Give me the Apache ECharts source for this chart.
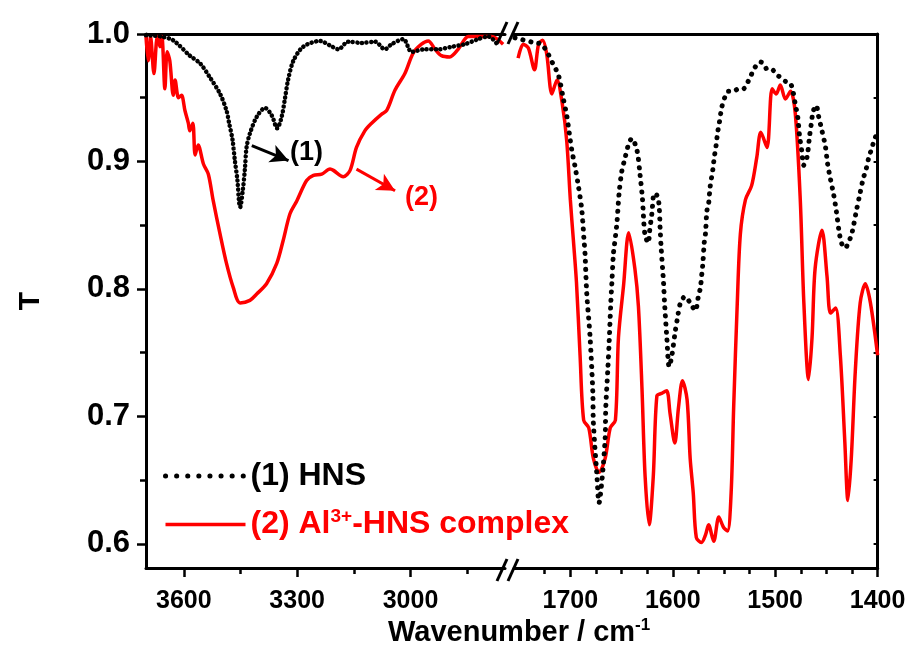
<!DOCTYPE html>
<html><head><meta charset="utf-8">
<script src="https://cdn.jsdelivr.net/npm/echarts@6/dist/echarts.min.js"></script>
<style>html,body{margin:0;padding:0;background:#fff}#c{width:920px;height:664px}</style>
</head><body><div id="c"></div>
<script>
// ---- data: [wavenumber, T] ----
const hnsHigh = [
 [3700,0.999],[3660,0.998],[3628,0.995],[3584,0.983],[3557,0.977],[3531,0.966],[3504,0.953],
 [3487,0.940],[3480,0.930],[3471,0.917],[3465,0.901],[3458,0.885],[3454,0.869],[3451,0.864],
 [3444,0.877],[3438,0.895],[3434,0.911],[3425,0.922],[3407,0.935],[3385,0.942],[3367,0.936],
 [3353,0.926],[3341,0.935],[3332,0.950],[3324,0.964],[3310,0.979],[3284,0.990],[3240,0.9945],
 [3213,0.991],[3191,0.988],[3165,0.994],[3129,0.993],[3094,0.994],[3068,0.988],[3050,0.992],
 [3019,0.996],[2997,0.986],[2962,0.988],[2927,0.988],[2891,0.990],[2856,0.992],[2821,0.996],
 [2794,0.998],[2768,0.991]
];
const complexHigh = [
 [3700,0.998],[3694,0.979],[3688,0.998],[3679,0.969],[3670,0.998],[3663,0.990],[3658,0.998],
 [3650,0.957],[3644,0.986],[3637,0.979],[3628,0.952],[3623,0.964],[3614,0.950],[3606,0.952],
 [3597,0.940],[3588,0.930],[3584,0.924],[3576,0.930],[3570,0.905],[3562,0.913],[3548,0.898],
 [3535,0.890],[3522,0.869],[3504,0.843],[3487,0.820],[3469,0.801],[3451,0.789],[3425,0.791],
 [3407,0.796],[3381,0.804],[3354,0.820],[3337,0.838],[3319,0.859],[3301,0.869],[3275,0.885],
 [3257,0.889],[3235,0.890],[3213,0.894],[3204,0.893],[3178,0.888],[3160,0.893],[3143,0.911],
 [3121,0.924],[3103,0.930],[3077,0.937],[3063,0.940],[3041,0.956],[3015,0.969],[2993,0.985],
 [2971,0.992],[2953,0.9945],[2935,0.988],[2918,0.983],[2896,0.982],[2874,0.988],[2847,0.998],
 [2821,0.998],[2786,0.998],[2755,0.992]
];
const hnsLow = [
 [1754,0.997],[1734.5,0.993],[1728,0.992],[1721.5,0.984],[1716.6,0.976],[1711.7,0.968],
 [1706.8,0.949],[1703.5,0.936],[1701,0.922],[1698.6,0.909],[1695.4,0.896],[1692,0.880],
 [1688.8,0.862],[1686.6,0.838],[1685.6,0.827],[1684,0.797],[1680.7,0.762],[1678,0.718],
 [1677.5,0.695],[1674,0.653],[1672,0.632],[1669,0.651],[1666,0.683],[1665.4,0.707],
 [1663.4,0.737],[1662,0.760],[1660.5,0.789],[1659.5,0.804],[1658,0.827],[1657,0.834],
 [1654.6,0.851],[1652.4,0.875],[1649.8,0.892],[1646.5,0.903],[1643.3,0.913],[1640,0.918],
 [1635,0.909],[1632,0.890],[1629.6,0.871],[1628.6,0.857],[1627,0.842],[1623.8,0.836],
 [1622.8,0.844],[1620.4,0.859],[1618,0.875],[1615,0.873],[1613.3,0.865],[1612.3,0.847],
 [1611.3,0.832],[1609,0.805],[1608,0.789],[1605.8,0.762],[1603.5,0.739],[1601,0.747],
 [1597.7,0.766],[1595.4,0.777],[1592.5,0.789],[1588,0.794],[1583,0.789],[1578,0.783],
 [1575,0.794],[1573,0.801],[1571.6,0.812],[1570.6,0.820],[1569.3,0.836],[1568,0.844],
 [1566.7,0.861],[1565,0.867],[1563.5,0.880],[1560.8,0.894],[1559.5,0.903],[1557.6,0.913],
 [1556.3,0.922],[1554.4,0.931],[1552,0.943],[1548.8,0.951],[1545.6,0.955],[1540.7,0.955],
 [1535.8,0.957],[1531,0.957],[1527.6,0.961],[1525,0.965],[1521,0.972],[1517.8,0.976],
 [1514.6,0.978],[1511.4,0.977],[1507.5,0.972],[1503.2,0.972],[1498.3,0.968],[1493.4,0.965],
 [1488.5,0.962],[1485,0.961],[1482.6,0.955],[1480.4,0.945],[1478,0.935],[1476.2,0.920],
 [1474,0.908],[1472.3,0.897],[1469,0.903],[1466.4,0.920],[1465,0.928],[1463,0.939],
 [1460,0.944],[1457.5,0.935],[1454.3,0.924],[1451,0.912],[1448.8,0.898],[1446,0.886],
 [1442.9,0.874],[1440.3,0.861],[1437.4,0.844],[1434.8,0.835],[1431.5,0.832],[1429.3,0.835],
 [1425.7,0.842],[1423.4,0.850],[1420.8,0.861],[1417.4,0.874],[1414.2,0.886],[1411.2,0.894],
 [1408.6,0.903],[1405.4,0.911],[1402.8,0.918],[1400,0.922]
];
const complexLow = [
 [1751,0.981],[1746,0.992],[1741,0.989],[1735,0.972],[1731,0.992],[1727,0.995],[1723,0.984],
 [1718,0.953],[1713,0.964],[1708,0.946],[1703.5,0.916],[1700,0.870],[1697,0.838],[1694,0.805],
 [1690.5,0.748],[1687,0.697],[1682,0.691],[1677.5,0.667],[1672,0.656],[1666,0.667],[1661,0.691],
 [1656,0.697],[1653,0.762],[1648,0.803],[1643,0.844],[1637,0.816],[1633.5,0.786],[1630,0.721],
 [1627,0.653],[1623,0.615],[1619,0.653],[1615.5,0.716],[1611,0.718],[1606,0.720],[1602.6,0.702],
 [1598,0.679],[1594.4,0.707],[1590.5,0.728],[1586,0.713],[1583,0.667],[1580,0.640],[1577,0.605],
 [1572,0.601],[1568,0.607],[1565,0.615],[1560,0.602],[1555,0.621],[1550.5,0.613],[1546.5,0.610],
 [1543,0.640],[1540.5,0.708],[1537,0.789],[1534,0.843],[1529,0.870],[1523,0.881],[1518,0.903],
 [1514,0.923],[1508,0.911],[1503,0.957],[1499,0.953],[1495,0.960],[1490,0.949],[1485,0.955],
 [1480.4,0.938],[1475.5,0.870],[1472,0.789],[1467.4,0.729],[1464,0.762],[1461,0.816],
 [1454.3,0.846],[1449.4,0.810],[1446,0.781],[1441,0.785],[1436.4,0.748],[1432,0.680],
 [1429,0.634],[1425.7,0.667],[1421.8,0.735],[1417,0.789],[1412,0.804],[1407,0.789],[1400,0.748]
];
const highMajorTicks = [3600, 3300, 3000];
const highMinorTicks = [3450, 3150, 2850];
const lowMajorTicks = [1700, 1600, 1500, 1400];
const lowMinorTicks = [1725, 1675, 1650, 1625, 1575, 1550, 1525, 1475, 1450, 1425];
const yMajorTicks = [0.6, 0.7, 0.8, 0.9, 1.0];
const yMinorTicks = [0.65, 0.75, 0.85, 0.95];
const yRightTicks = [0.6, 0.65, 0.7, 0.75, 0.8, 0.85, 0.9, 0.95];
const seriesNames = ['(1) HNS', '(2) Al3+-HNS complex'];
const arrow1 = [[3420, 0.9125], [3323, 0.9007]];
const arrow2 = [[3143, 0.894], [3041, 0.877]];
const label1 = [3275, 0.907];
const label2 = [2971, 0.872];

// ---- chart ----
const FONT = '"Liberation Sans", Arial, sans-serif';
const BLACK = '#000', RED = '#ff0000';
const chart = echarts.init(document.getElementById('c'), null, {renderer: 'canvas'});

const YMIN = 0.581, YMAX = 1.0;
const axisLineStyle = {show: true, lineStyle: {color: BLACK, width: 3}};
function xMajor(grid, min, max, ticks) {
  return {type: 'value', gridIndex: grid, min, max, inverse: true, position: 'bottom',
    axisLine: axisLineStyle, splitLine: {show: false},
    axisTick: {show: true, customValues: ticks, length: 9, lineStyle: {color: BLACK, width: 2.5}},
    axisLabel: {show: true, customValues: ticks, margin: 21, color: BLACK, fontSize: 25,
      fontWeight: 'bold', fontFamily: FONT, formatter: v => String(v)}};
}
function xMinor(grid, min, max, ticks) {
  return {type: 'value', gridIndex: grid, min, max, inverse: true, position: 'bottom',
    axisLine: {show: false}, splitLine: {show: false}, axisLabel: {show: false},
    axisTick: {show: true, customValues: ticks, length: 6, lineStyle: {color: BLACK, width: 2.5}}};
}
function xTop(grid, min, max) {
  return {type: 'value', gridIndex: grid, min, max, inverse: true, position: 'top',
    axisLine: axisLineStyle, splitLine: {show: false}, axisLabel: {show: false}, axisTick: {show: false}};
}
const hiddenSymbol = {color: 'rgba(0,0,0,0)', borderWidth: 0, opacity: 0};

const option = {
  backgroundColor: '#fff',
  animation: false,
  grid: [
    {left: 146, top: 34, width: 359, height: 534},
    {left: 514, top: 34, width: 363.6, height: 534}
  ],
  xAxis: [
    xMajor(0, 2750, 3700, highMajorTicks),
    xMinor(0, 2750, 3700, highMinorTicks),
    xTop(0, 2750, 3700),
    xMajor(1, 1400, 1755, lowMajorTicks),
    xMinor(1, 1400, 1755, lowMinorTicks),
    xTop(1, 1400, 1755)
  ],
  yAxis: [
    {type: 'value', gridIndex: 0, min: YMIN, max: YMAX, position: 'left',
      axisLine: axisLineStyle, splitLine: {show: false},
      axisTick: {show: true, customValues: yMajorTicks, length: 9, lineStyle: {color: BLACK, width: 2.5}},
      axisLabel: {show: true, customValues: yMajorTicks, margin: 16, color: BLACK, fontSize: 31,
        fontWeight: 'bold', fontFamily: FONT, formatter: v => v.toFixed(1)},
      name: 'T', nameLocation: 'middle', nameGap: 100, nameRotate: 90,
      nameTextStyle: {color: BLACK, fontSize: 30, fontWeight: 'bold', fontFamily: FONT}},
    {type: 'value', gridIndex: 0, min: YMIN, max: YMAX, position: 'left',
      axisLine: {show: false}, splitLine: {show: false}, axisLabel: {show: false},
      axisTick: {show: true, customValues: yMinorTicks, length: 6, lineStyle: {color: BLACK, width: 2.5}}},
    {type: 'value', gridIndex: 1, min: YMIN, max: YMAX, position: 'right',
      axisLine: axisLineStyle, splitLine: {show: false}, axisLabel: {show: false},
      axisTick: {show: true, inside: true, customValues: yRightTicks, length: 4, lineStyle: {color: BLACK, width: 2}}}
  ],
  legend: {
    show: true, orient: 'vertical', left: 158, top: 455, itemWidth: 80, itemHeight: 32, itemGap: 15,
    selectedMode: false,
    data: [
      {name: seriesNames[0], textStyle: {color: BLACK}, itemStyle: hiddenSymbol,
        lineStyle: {color: BLACK, width: 5, type: [0.1, 11], cap: 'round'}},
      {name: seriesNames[1], textStyle: {color: RED}, itemStyle: hiddenSymbol,
        lineStyle: {color: RED, width: 3.5, type: 'solid'}}
    ],
    formatter: name => name.replace('3+', '{sup|3+}'),
    textStyle: {fontSize: 32, fontWeight: 'bold', fontFamily: FONT,
      rich: {sup: {fontSize: 19, fontWeight: 'bold', fontFamily: FONT, color: RED, padding: [0, 0, 16, 0]}}}
  },
  series: [
    {name: seriesNames[1], type: 'line', xAxisIndex: 0, yAxisIndex: 0, data: complexHigh,
      symbol: 'none', smooth: 0.3, z: 2, lineStyle: {color: RED, width: 3.5}, itemStyle: {color: RED},
      markLine: {silent: true, symbol: ['none', 'arrow'], symbolSize: [14, 18],
        lineStyle: {color: RED, width: 3, type: 'solid'}, label: {show: false},
        data: [[{coord: arrow2[0]}, {coord: arrow2[1]}]]},
      markPoint: {silent: true, symbol: 'circle', symbolSize: 1, itemStyle: {color: 'rgba(0,0,0,0)'},
        label: {show: true, position: 'inside', formatter: '(2)', color: RED, fontSize: 27,
          fontWeight: 'bold', fontFamily: FONT},
        data: [{coord: label2}]}},
    {name: seriesNames[0], type: 'line', xAxisIndex: 0, yAxisIndex: 0, data: hnsHigh,
      symbol: 'none', smooth: 0.3, z: 3, lineStyle: {color: BLACK, width: 4.5, type: [0.1, 4.5], cap: 'round'},
      itemStyle: {color: BLACK},
      markLine: {silent: true, symbol: ['none', 'arrow'], symbolSize: [14, 18],
        lineStyle: {color: BLACK, width: 3, type: 'solid'}, label: {show: false},
        data: [[{coord: arrow1[0]}, {coord: arrow1[1]}]]},
      markPoint: {silent: true, symbol: 'circle', symbolSize: 1, itemStyle: {color: 'rgba(0,0,0,0)'},
        label: {show: true, position: 'inside', formatter: '(1)', color: BLACK, fontSize: 27,
          fontWeight: 'bold', fontFamily: FONT},
        data: [{coord: label1}]}},
    {name: seriesNames[1], type: 'line', xAxisIndex: 3, yAxisIndex: 2, data: complexLow,
      symbol: 'none', smooth: 0.3, z: 2, lineStyle: {color: RED, width: 3.5}, itemStyle: {color: RED}},
    {name: seriesNames[0], type: 'line', xAxisIndex: 3, yAxisIndex: 2, data: hnsLow,
      symbol: 'none', smooth: 0.3, z: 3, lineStyle: {color: BLACK, width: 5, type: [0.1, 8], cap: 'round'},
      itemStyle: {color: BLACK}}
  ],
  graphic: [
    {type: 'line', shape: {x1: 497, y1: 44, x2: 507, y2: 22}, style: {stroke: BLACK, lineWidth: 3}, z: 10},
    {type: 'line', shape: {x1: 508, y1: 44, x2: 518, y2: 22}, style: {stroke: BLACK, lineWidth: 3}, z: 10},
    {type: 'line', shape: {x1: 497, y1: 581, x2: 507, y2: 559}, style: {stroke: BLACK, lineWidth: 3}, z: 10},
    {type: 'line', shape: {x1: 508, y1: 581, x2: 518, y2: 559}, style: {stroke: BLACK, lineWidth: 3}, z: 10},
    {type: 'text', left: 388, top: 617, z: 10,
      style: {text: 'Wavenumber / cm{sup|-1}', fill: BLACK, fontSize: 29, fontWeight: 'bold', fontFamily: FONT,
        rich: {sup: {fontSize: 17, fontWeight: 'bold', fontFamily: FONT, fill: BLACK, padding: [0, 0, 15, 0]}}}}
  ]
};
chart.setOption(option);
</script></body></html>
